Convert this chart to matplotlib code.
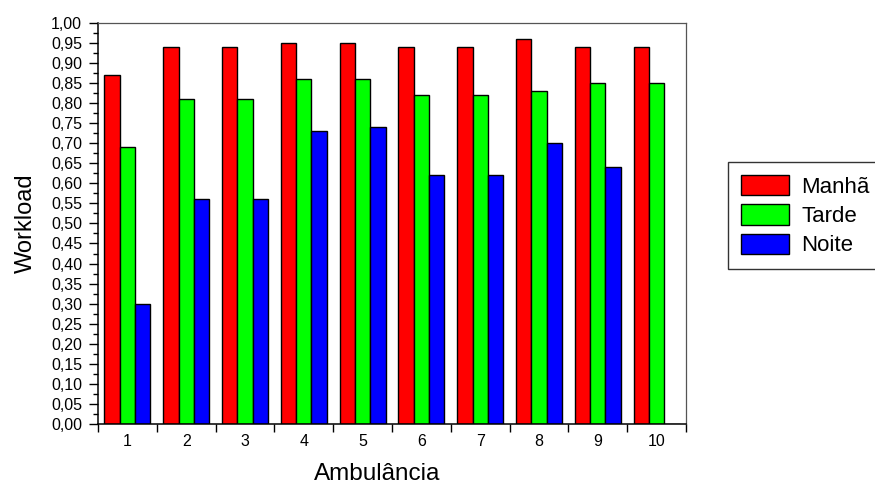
import matplotlib
matplotlib.use('Agg')
import matplotlib.pyplot as plt
import numpy as np
from matplotlib.ticker import FuncFormatter, MultipleLocator, FixedLocator

plt.rcParams['font.family'] = ['Liberation Sans', 'DejaVu Sans']

# --- Data ---
ambulancias = ['1', '2', '3', '4', '5', '6', '7', '8', '9', '10']
manha = [0.87, 0.94, 0.94, 0.95, 0.95, 0.94, 0.94, 0.96, 0.94, 0.94]
tarde = [0.69, 0.81, 0.81, 0.86, 0.86, 0.82, 0.82, 0.83, 0.85, 0.85]
noite = [0.30, 0.56, 0.56, 0.73, 0.74, 0.62, 0.62, 0.70, 0.64, 0.0]

series = [('Manhã', manha, '#ff0000'), ('Tarde', tarde, '#00ff00'), ('Noite', noite, '#0000ff')]

# --- Plot ---
fig = plt.figure(figsize=(8.75, 4.9), dpi=100)
ax = fig.add_axes([0.112, 0.135, 0.672, 0.818])

x = np.arange(1, len(ambulancias) + 1)
w = 0.26
for i, (name, vals, col) in enumerate(series):
    ax.bar(x + (i - 1) * w, vals, width=w, color=col, edgecolor='black',
           linewidth=1.0, label=name)

ax.set_xlim(0.5, 10.5)
ax.set_ylim(0, 1.0)

ax.yaxis.set_major_locator(MultipleLocator(0.05))
ax.yaxis.set_minor_locator(MultipleLocator(0.025))
ax.yaxis.set_major_formatter(FuncFormatter(lambda v, p: f'{v:.2f}'.replace('.', ',')))
ax.tick_params(axis='y', which='major', direction='out', length=6.5, width=1.0,
               labelsize=11.5, pad=5)
ax.tick_params(axis='y', which='minor', direction='out', length=3.6, width=1.0)

ax.set_xticks(x)
ax.set_xticklabels(ambulancias)
ax.xaxis.set_minor_locator(FixedLocator(np.arange(0.5, 11, 1.0)))
ax.tick_params(axis='x', which='major', length=0, labelsize=11.5, pad=7.5)
ax.tick_params(axis='x', which='minor', direction='out', length=6, width=1.0)

for s in ['left', 'bottom']:
    ax.spines[s].set_linewidth(1.1)
for s in ['top', 'right']:
    ax.spines[s].set_linewidth(0.9)
    ax.spines[s].set_color('#555555')

ax.set_xlabel('Ambulância', fontsize=17.5)
ax.xaxis.set_label_coords(0.4745, -0.097)
ax.set_ylabel('Workload', fontsize=17)
ax.yaxis.set_label_coords(-0.104, 0.5)

leg = fig.legend(loc='upper left', bbox_to_anchor=(728 / 875, 1 - 162 / 490),
                 fontsize=16, frameon=True, fancybox=False, borderaxespad=0,
                 handlelength=2.15, handleheight=1.03, handletextpad=0.56,
                 labelspacing=0.3, borderpad=0.58)
leg.get_frame().set_edgecolor('black')
leg.get_frame().set_linewidth(1.0)

fig.savefig('out.png', dpi=100)
plt.close()
